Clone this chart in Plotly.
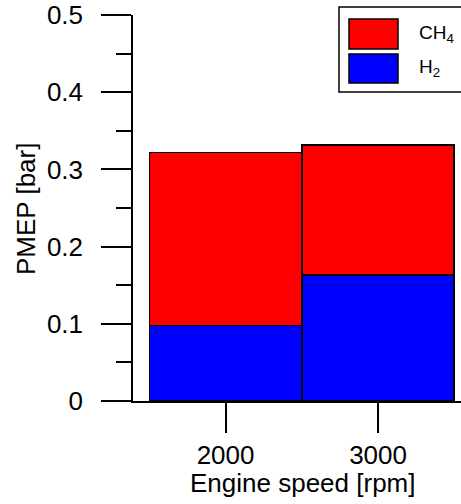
import plotly.graph_objects as go

# Data
speeds = [2000, 3000]
tick_labels = ["2000", "3000"]
h2 = [0.098, 0.163]
ch4 = [0.224, 0.169]

FONT = "Arial, Liberation Sans, sans-serif"
W, H = 461, 504
L, R, T, B = 133, 0, 15, 103
PW, PH = W - L - R, H - T - B

def px(x):
    return (x - L) / PW

def py(y):
    return (H - B - y) / PH

fig = go.Figure()
fig.add_trace(go.Bar(x=speeds, y=h2, width=1000, name="H<sub>2</sub>",
                     marker=dict(color="#0000FF", line=dict(color="black", width=1.6))))
fig.add_trace(go.Bar(x=speeds, y=ch4, width=1000, name="CH<sub>4</sub>",
                     marker=dict(color="#FF0000", line=dict(color="black", width=1.6))))

fig.update_layout(
    barmode="stack",
    width=W, height=H,
    margin=dict(l=L, r=R, t=T, b=B, pad=0),
    paper_bgcolor="white", plot_bgcolor="white",
    showlegend=False,
    font=dict(family=FONT, size=26, color="black"),
)

fig.update_xaxes(
    range=[1393, 3544], tickvals=speeds, ticktext=tick_labels,
    ticks="outside", ticklen=30, tickwidth=1.5, tickcolor="black",
    showline=True, linecolor="black", linewidth=1.5,
    showgrid=False, zeroline=False, ticklabelstandoff=0,
    tickfont=dict(size=26),
)
fig.update_yaxes(
    range=[0, 0.5], tickvals=[0, 0.1, 0.2, 0.3, 0.4, 0.5],
    ticktext=["0", "0.1", "0.2", "0.3", "0.4", "0.5"],
    ticks="outside", ticklen=30, tickwidth=1.5, tickcolor="black",
    minor=dict(dtick=0.05, tick0=0, ticks="outside", ticklen=15, tickwidth=1.5, tickcolor="black"),
    showline=True, linecolor="black", linewidth=1.5,
    showgrid=False, zeroline=False, ticklabelstandoff=13,
    tickfont=dict(size=26),
)

# Axis titles
fig.add_annotation(text="Engine speed [rpm]", xref="paper", yref="paper",
                   x=px(302), y=py(483), xanchor="center", yanchor="middle",
                   showarrow=False, font=dict(size=26))
fig.add_annotation(text="PMEP [bar]", xref="paper", yref="paper",
                   x=px(26), y=py(209), xanchor="center", yanchor="middle",
                   textangle=-90, showarrow=False, font=dict(size=26))

# Legend (drawn manually to match large swatches)
fig.add_shape(type="rect", xref="paper", yref="paper",
              x0=px(339), x1=px(475), y0=py(92), y1=py(7),
              line=dict(color="black", width=1.5), fillcolor="white", layer="above")
legend_items = [("CH<sub>4</sub>", "#FF0000", 19, 49, 34), ("H<sub>2</sub>", "#0000FF", 54, 83, 68)]
for label, color, y0, y1, yc in legend_items:
    fig.add_shape(type="rect", xref="paper", yref="paper",
                  x0=px(349), x1=px(398), y0=py(y1), y1=py(y0),
                  line=dict(color="black", width=1.5), fillcolor=color, layer="above")
    fig.add_annotation(text=label, xref="paper", yref="paper",
                       x=px(417), y=py(yc), xanchor="left", yanchor="middle",
                       showarrow=False, font=dict(size=19))

fig.write_html("out.html")
